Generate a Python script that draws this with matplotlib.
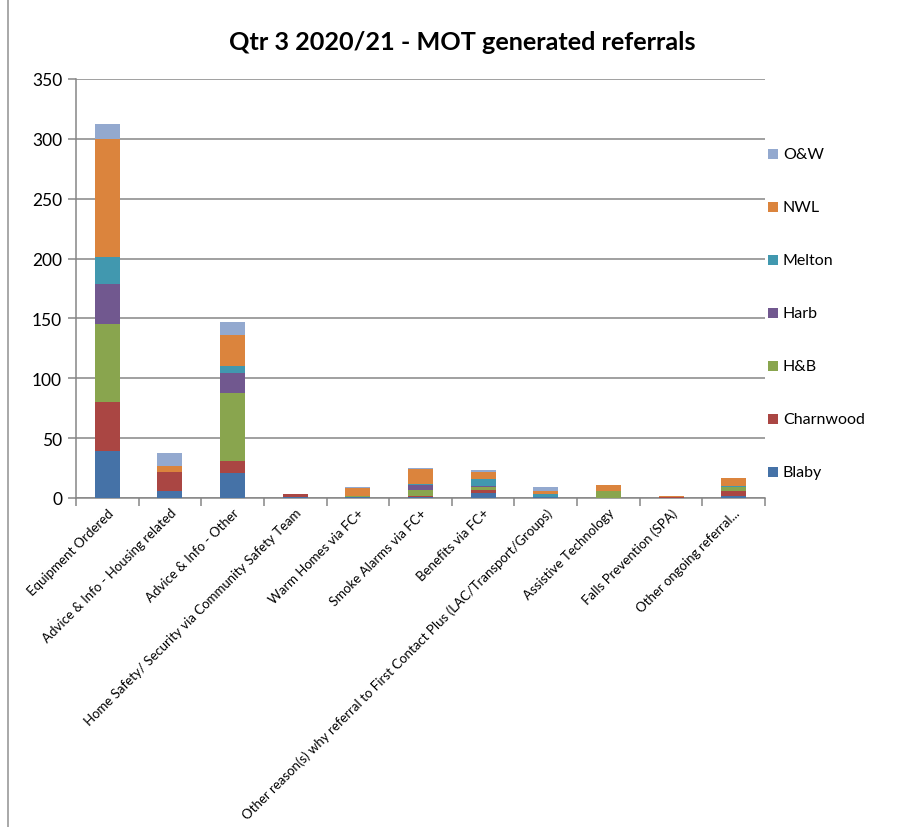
import matplotlib
matplotlib.use("Agg")
import matplotlib.pyplot as plt
from matplotlib.patches import Rectangle
from matplotlib.lines import Line2D
import numpy as np

plt.rcParams['font.family'] = ['Lato', 'DejaVu Sans']

categories = [
    "Equipment Ordered",
    "Advice & Info - Housing related",
    "Advice & Info - Other",
    "Home Safety/ Security via Community Safety Team",
    "Warm Homes via FC+",
    "Smoke Alarms via FC+",
    "Benefits via FC+",
    "Other reason(s) why referral to First Contact Plus (LAC/Transport/Groups)",
    "Assistive Technology",
    "Falls Prevention (SPA)",
    "Other ongoing referral...",
]

blaby     = [39,  6, 21, 1, 1, 1, 4, 1, 0, 0, 2]
charnwood = [41, 16, 10, 2, 0, 1, 3, 0, 0, 1, 4]
hb        = [65,  0, 57, 0, 1, 5, 2, 0, 6, 0, 3]
harb      = [34,  0, 16, 0, 0, 4, 1, 0, 0, 0, 0]
melton    = [22,  0,  6, 0, 0, 1, 6, 2, 0, 0, 1]
nwl       = [99,  5, 26, 0, 6, 12, 6, 3, 5, 1, 7]
ow        = [12, 11, 11, 0, 1, 1, 1, 3, 0, 0, 0]

series_names = ["Blaby", "Charnwood", "H&B", "Harb", "Melton", "NWL", "O&W"]
series_values = [blaby, charnwood, hb, harb, melton, nwl, ow]
colors = ["#4572A7", "#AA4643", "#89A54E", "#71588F", "#4198AF", "#DB843D", "#93A9CF"]

y_ticks = [0, 50, 100, 150, 200, 250, 300, 350]

W, H = 912, 828
fig = plt.figure(figsize=(W / 100, H / 100), dpi=100)
ax = fig.add_axes([76 / W, 1 - 499 / H, 689 / W, 419 / H])

x = np.arange(len(categories))
bottom = np.zeros(len(categories))
for name, vals, c in zip(series_names, series_values, colors):
    v = np.array(vals, dtype=float)
    ax.bar(x, v, 0.4, bottom=bottom, color=c, edgecolor="none", zorder=3)
    bottom += v

ax.set_xlim(-0.5, len(categories) - 0.5)
ax.set_ylim(0, 350)
ax.set_yticks(y_ticks)
ax.set_yticklabels([str(t) for t in y_ticks], fontsize=12.5)

grid_c = "#868686"
ax.grid(axis="y", color=grid_c, linewidth=1.1, zorder=0)
ax.set_axisbelow(True)
for s in ("top", "right"):
    ax.spines[s].set_visible(False)
for s in ("left", "bottom"):
    ax.spines[s].set_color(grid_c)
    ax.spines[s].set_linewidth(1.1)
ax.tick_params(axis="y", length=6, color=grid_c, width=1.1, pad=4)

# category labels at bar centres, tick marks between categories
ax.set_xticks(x)
ax.set_xticklabels(categories, rotation=45, ha="right", rotation_mode="anchor",
                   fontsize=9.5)
ax.tick_params(axis="x", length=0, pad=6)
ax.set_xticks(np.arange(len(categories) + 1) - 0.5, minor=True)
ax.tick_params(axis="x", which="minor", length=6, color=grid_c, width=1.1)

fig.text(462 / W, 1 - 42 / H, "Qtr 3 2020/21 - MOT generated referrals",
         ha="center", va="center", fontsize=18.2, fontweight="bold")

# legend, top entry is the last series
legend_y = [473, 420, 367, 314, 261, 208, 155]
for name, c, yy in zip(series_names, colors, legend_y):
    fig.patches.append(Rectangle((768 / W, 1 - (yy + 5) / H), 10 / W, 10 / H,
                                 transform=fig.transFigure, facecolor=c,
                                 edgecolor="none"))
    fig.text(783 / W, 1 - yy / H, name, ha="left", va="center", fontsize=11.5)

# chart frame edge
fig.lines.append(Line2D([8 / W, 8 / W], [0, 1], transform=fig.transFigure,
                        color="#9a9a9a", linewidth=1.2))

fig.savefig("out.png", dpi=100)
